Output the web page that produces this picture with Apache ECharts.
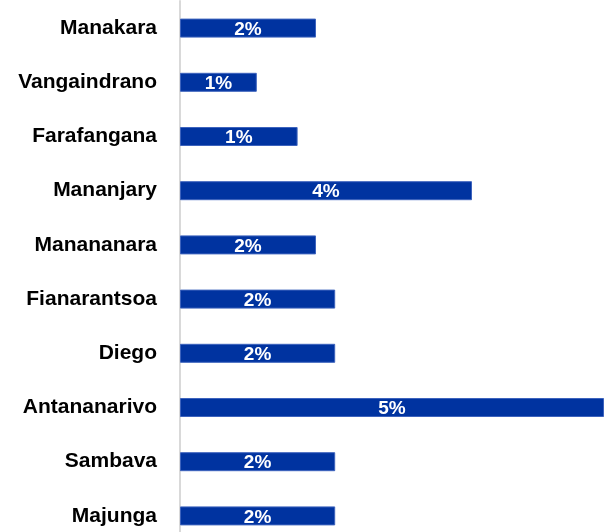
<!DOCTYPE html>
<html>
<head>
<meta charset="utf-8">
<script src="https://cdn.jsdelivr.net/npm/echarts@6/dist/echarts.min.js"></script>
<style>
  html, body { margin: 0; padding: 0; background: #ffffff; }
  #chart { width: 604px; height: 532px; }
</style>
</head>
<body>
<div id="chart"></div>
<script>
// Towns, listed top to bottom
var towns = ['Manakara', 'Vangaindrano', 'Farafangana', 'Mananjary', 'Manananara',
             'Fianarantsoa', 'Diego', 'Antananarivo', 'Sambava', 'Majunga'];
// Share per town, in percent
var shares = [1.70, 0.96, 1.47, 3.65, 1.70, 1.94, 1.94, 5.30, 1.94, 1.94];

var chart = echarts.init(document.getElementById('chart'), null, { renderer: 'canvas' });

chart.setOption({
  animation: false,
  backgroundColor: '#ffffff',
  // the last row's band runs a little past the bottom edge
  grid: { left: 180, right: 0, top: 1, height: 542, containLabel: false, outerBoundsMode: 'none' },
  xAxis: {
    type: 'value',
    min: 0,
    max: Math.max.apply(null, shares),
    show: false
  },
  yAxis: {
    type: 'category',
    data: towns,
    inverse: true,
    axisLine: { show: true, lineStyle: { color: '#d9d9d9', width: 2 } },
    axisTick: { show: false },
    splitLine: { show: false },
    axisLabel: {
      margin: 23,
      color: '#000000',
      fontFamily: 'Liberation Sans, Arial, sans-serif',
      fontWeight: 'bold',
      fontSize: 21
    }
  },
  series: [{
    type: 'bar',
    data: shares,
    barWidth: 19,
    itemStyle: { color: '#0033a0', borderColor: '#3d63bd', borderWidth: 1 },
    label: {
      show: true,
      position: 'inside',
      offset: [0, 1.5],
      color: '#ffffff',
      fontFamily: 'Liberation Sans, Arial, sans-serif',
      fontWeight: 'bold',
      fontSize: 19,
      formatter: function (p) { return Math.round(p.value) + '%'; }
    }
  }]
});
</script>
</body>
</html>
